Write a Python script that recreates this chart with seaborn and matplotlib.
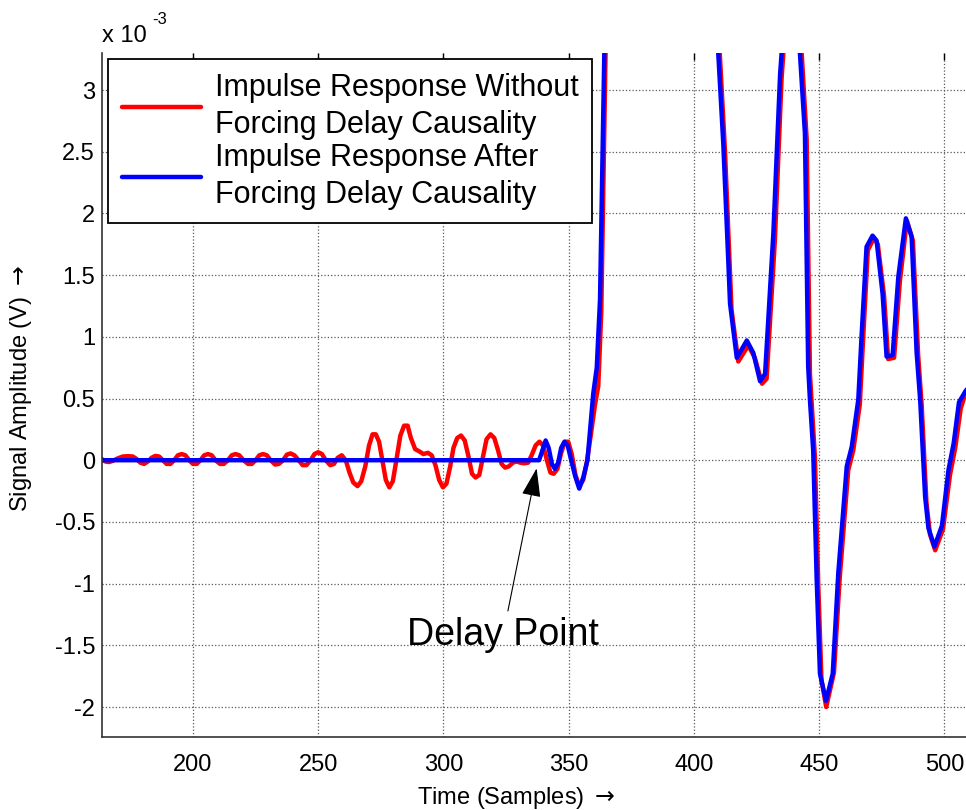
import numpy as np
import pandas as pd
import matplotlib
matplotlib.use("Agg")
import matplotlib.pyplot as plt
import seaborn as sns

# ---------------- data (amplitudes in units of 1e-3 V) ----------------
red_label = "Impulse Response Without\nForcing Delay Causality"
blue_label = "Impulse Response After\nForcing Delay Causality"

red_x = [160, 161.5, 163.6, 165, 166.5, 168, 170, 172, 174, 176, 177.5, 179, 180.5, 182,
         183.5, 185, 186.5, 188, 189.5, 191, 192.5, 194, 195.5, 197, 198.5, 200, 201.5,
         203, 204.5, 206, 207.5, 209, 210.8, 212.3, 214, 215.5, 217, 218.5, 220.2, 222,
         223.5, 225, 226.5, 228, 229.5, 231, 232.8, 234.3, 236, 237.5, 239, 240.5, 242.2,
         243.8, 245.3, 247, 248.5, 250, 251.5, 253, 254.8, 256.3, 257.8, 259.4, 261,
         262.5, 264, 265.7, 267.2, 268.8, 270.3, 271.7, 273, 274.3, 275.6, 277, 278.4,
         279.8, 281.2, 282.8, 284.3, 285.7, 287, 288.7, 290.5, 292, 293.8, 295.3, 296.8,
         298.3, 299.8, 301.2, 302.7, 304, 305.5, 307, 308.5, 310, 311.4, 312.8, 314.3,
         315.7, 317.2, 318.8, 320.3, 321.8, 323.2, 324.6, 326.1, 327.7, 329.2, 330.7,
         332.2, 333.8, 335.2, 336.8, 338.3, 339.8, 341.3, 342.7, 344, 345.5, 347, 348.5,
         349.8, 351.2, 352.7, 354.2, 355.8, 357.2, 358.8, 360.5, 361.8, 363.0, 364.8,
         367, 371, 377, 385, 393, 401, 407, 410.3, 412.4, 414.3, 415.0, 417.7, 421.7,
         424.3, 427.2, 429.0, 432.3, 435.0, 439.0, 443.0, 445.0, 446.3, 448.3, 449.6,
         450.9, 452.8, 455.9, 458.2, 461.6, 463.6, 466.2, 467.5, 469.4, 471.8, 473.4,
         475.9, 477.5, 479.9, 482.2, 485.0, 487.4, 489.5, 490.9, 492.8, 494.2, 496.3,
         499.4, 502.2, 504.3, 506.5, 508.5, 510]
red_y = [0.03, 0.03, 0.01, -0.01, -0.015, -0.005, 0.015, 0.03, 0.033, 0.03, 0.01, -0.02,
         -0.03, -0.01, 0.02, 0.035, 0.03, 0.0, -0.03, -0.03, 0.0, 0.04, 0.05, 0.04, 0.0,
         -0.03, -0.03, 0.0, 0.04, 0.05, 0.04, 0.0, -0.03, -0.03, 0.0, 0.04, 0.05, 0.04,
         0.0, -0.03, -0.03, 0.0, 0.04, 0.05, 0.04, 0.0, -0.035, -0.03, 0.0, 0.045, 0.055,
         0.04, 0.0, -0.04, -0.04, 0.0, 0.05, 0.065, 0.05, 0.0, -0.04, -0.03, 0.02, 0.04,
         0.0, -0.1, -0.18, -0.21, -0.17, -0.05, 0.12, 0.21, 0.21, 0.15, 0.0, -0.16, -0.22,
         -0.17, 0.0, 0.2, 0.28, 0.28, 0.18, 0.09, 0.07, 0.05, 0.06, 0.04, -0.04, -0.16,
         -0.22, -0.19, -0.05, 0.1, 0.18, 0.2, 0.16, 0.03, -0.11, -0.14, -0.12, 0.02, 0.17,
         0.21, 0.18, 0.08, -0.03, -0.06, -0.05, -0.02, -0.01, -0.02, -0.025, -0.02, 0.04,
         0.12, 0.15, 0.12, 0.0, -0.1, -0.11, -0.07, 0.06, 0.15, 0.15, 0.05, -0.12, -0.21,
         -0.16, -0.02, 0.2, 0.45, 0.6, 1.2, 3.4,
         5.0, 8.0, 9.4, 7.4, 5.4, 4.5, 4.0, 3.3, 2.5, 1.55, 1.22, 0.80, 0.93,
         0.83, 0.62, 0.66, 1.78, 3.1, 4.25, 3.3, 2.6, 0.7, 0.02, -1.0,
         -1.78, -2.00, -1.72, -0.95, -0.08, 0.08, 0.45, 0.97, 1.70, 1.80, 1.75,
         1.33, 0.82, 0.83, 1.45, 1.94, 1.78, 0.85, 0.45, -0.34, -0.60, -0.73,
         -0.56, -0.12, 0.10, 0.42, 0.55, 0.58]

blue_x = [160, 338.2, 339.5, 340.8, 342, 343.3, 344.5, 345.8, 347, 348.3, 349.6, 351,
          352.6, 354.2, 355.8, 357.5, 359.8, 361.2, 362.5, 364.3, 366, 370,
          376, 384, 392, 400, 406, 409.7, 411.7, 413.7, 414.4, 417.1, 421.1, 423.7,
          426.4, 428.4, 431.7, 434.4, 438.5, 442.3, 444.3, 445.6, 446.3, 447.6, 449.0,
          450.3, 452.7, 455.4, 457.6, 461.0, 463.0, 465.6, 466.9, 468.9, 471.3, 472.9,
          475.3, 476.9, 479.3, 481.6, 484.6, 486.9, 488.9, 490.3, 492.3, 493.6, 496.0,
          499.0, 501.6, 503.7, 505.8, 508.4, 510]
blue_y = [0.0, 0.0, 0.08, 0.16, 0.1, -0.03, -0.07, -0.02, 0.1, 0.15, 0.12, 0.0,
          -0.13, -0.23, -0.14, 0.0, 0.54, 0.75, 1.3, 3.4, 5.0, 8.0,
          9.5, 7.5, 5.5, 4.6, 4.0, 3.3, 2.57, 1.62, 1.27, 0.83, 0.97, 0.87,
          0.64, 0.70, 1.84, 3.13, 4.3, 3.3, 2.65, 0.76, 0.49, 0.08, -0.97,
          -1.73, -1.95, -1.73, -0.92, -0.05, 0.11, 0.49, 1.00, 1.73, 1.82, 1.78,
          1.35, 0.84, 0.85, 1.49, 1.96, 1.81, 0.87, 0.49, -0.30, -0.55, -0.70,
          -0.53, -0.08, 0.14, 0.47, 0.56, 0.60]

x_ticks = [200, 250, 300, 350, 400, 450, 500]
y_ticks = [-2, -1.5, -1, -0.5, 0, 0.5, 1, 1.5, 2, 2.5, 3]

df = pd.DataFrame({
    "Time": red_x + blue_x,
    "Amp": red_y + blue_y,
    "Series": [red_label] * len(red_x) + [blue_label] * len(blue_x),
})

# ---------------- styling ----------------
sns.set_style("white")
plt.rcParams["font.family"] = ["Liberation Sans", "DejaVu Sans"]
plt.rcParams["mathtext.fontset"] = "dejavusans"
plt.rcParams["text.color"] = "black"
plt.rcParams["axes.labelcolor"] = "black"
plt.rcParams["xtick.color"] = "black"
plt.rcParams["ytick.color"] = "black"

W, H = 966, 810
fig = plt.figure(figsize=(W / 100, H / 100), dpi=100)
ax = fig.add_axes([102 / W, 1 - 737 / H, (W - 102) / W, (737 - 53) / H])

sns.lineplot(data=df, x="Time", y="Amp", hue="Series", sort=False, estimator=None,
             palette={red_label: "#ff0000", blue_label: "#0000ff"},
             linewidth=3.2, ax=ax, legend=True)

ax.set_xlim(163.7, 508.6)
ax.set_ylim(-2.243, 3.30)
ax.set_xticks(x_ticks)
ax.set_yticks(y_ticks)
ax.set_xticklabels([f"{v:g}" for v in x_ticks])
ax.set_yticklabels([f"{v:g}" for v in y_ticks])
ax.grid(True, color="0.35", linestyle=":", linewidth=0.9)
ax.set_axisbelow(True)

for s in ["top", "right"]:
    ax.spines[s].set_visible(False)
for s in ["left", "bottom"]:
    ax.spines[s].set_color("#333333")
    ax.spines[s].set_linewidth(1.2)

ax.tick_params(axis="both", direction="in", length=5, width=1.0, colors="black",
               labelsize=17, top=True, right=False, labeltop=False)
ax.tick_params(axis="x", pad=12)
ax.tick_params(axis="y", pad=5)

ax.set_xlabel(r"Time (Samples) $\rightarrow$", fontsize=17)
ax.set_ylabel(r"Signal Amplitude (V) $\rightarrow$", fontsize=17)
ax.xaxis.set_label_coords(0.48, -0.070)
ax.yaxis.set_label_coords(-0.0787, 0.51)

# exponent label
fig.text(102 / W, 1 - 42 / H, "x 10", fontsize=17, ha="left", va="baseline")
fig.text(152 / W, 1 - 23.5 / H, "-3", fontsize=12, ha="left", va="baseline")

# legend
handles, labels = ax.get_legend_handles_labels()
leg = ax.legend(handles, labels, loc="upper left",
                bbox_to_anchor=(108 / W, 1 - 59 / H), bbox_transform=fig.transFigure,
                borderaxespad=0, fontsize=22, handlelength=2.6, handletextpad=0.45,
                borderpad=0.45, labelspacing=0.1, fancybox=False, framealpha=1,
                edgecolor="black")
leg.get_frame().set_linewidth(1.3)
for t in leg.get_texts():
    t.set_linespacing(1.3)
for line in leg.get_lines():
    line.set_linewidth(3.2)

# annotation
ax.annotate("Delay Point", xy=(337.2, -0.066), xytext=(323.8, -1.497),
            ha="center", va="baseline", fontsize=27,
            arrowprops=dict(arrowstyle="-|>,head_length=0.9,head_width=0.3",
                            mutation_scale=20, color="black", lw=0.8,
                            shrinkA=2, shrinkB=0))

fig.savefig("out.png", dpi=100)
